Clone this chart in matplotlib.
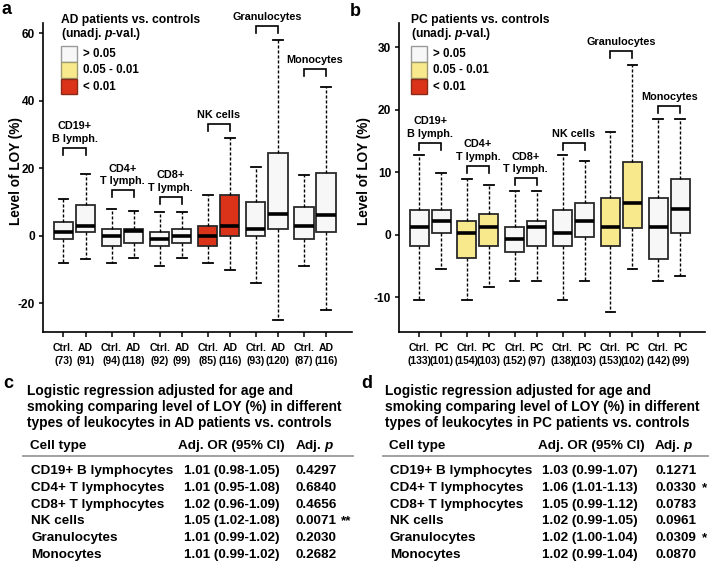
import matplotlib
matplotlib.use("Agg")
import matplotlib.pyplot as plt
from matplotlib.patches import Rectangle
from matplotlib.lines import Line2D

plt.rcParams['font.family'] = ['Liberation Sans', 'DejaVu Sans']
plt.rcParams['font.weight'] = 'bold'
plt.rcParams['axes.unicode_minus'] = False
plt.rcParams['mathtext.fontset'] = 'custom'
plt.rcParams['mathtext.it'] = 'Liberation Sans:italic:bold'
plt.rcParams['mathtext.rm'] = 'Liberation Sans:bold'
plt.rcParams['mathtext.bf'] = 'Liberation Sans:bold'

# ---------------- data ----------------
cell_groups = ["CD19+\nB lymph.", "CD4+\nT lymph.", "CD8+\nT lymph.", "NK cells", "Granulocytes", "Monocytes"]

# Panel a: AD patients vs controls (box order: Ctrl, AD per cell type)
a_ticklabels = ["Ctrl.\n(73)", "AD\n(91)", "Ctrl.\n(94)", "AD\n(118)", "Ctrl.\n(92)", "AD\n(99)",
                "Ctrl.\n(85)", "AD\n(116)", "Ctrl.\n(93)", "AD\n(120)", "Ctrl.\n(87)", "AD\n(116)"]
a_whislo = [-8, -7, -8, -6.6, -9, -6.6, -8, -10, -14, -25, -9, -22]
a_q1     = [-1, 1, -3, -2, -3, -2, -3, 0, 0, 2, -1, 1]
a_med    = [1, 3, 0, 1.5, -1, 0, 0, 3, 2, 6.5, 3, 6]
a_q3     = [4, 9, 2, 2, 1, 2, 3, 12, 10, 24.5, 8.5, 18.5]
a_whishi = [11, 18.4, 8, 7.2, 7, 7, 12, 29, 20.4, 58, 18, 44]
a_group_p = [">0.05", ">0.05", ">0.05", "<0.01", ">0.05", ">0.05"]
a_bracket = [26, 13.5, 11.5, 33, 62, 49.4]

# Panel b: PC patients vs controls
b_ticklabels = ["Ctrl.\n(133)", "PC\n(101)", "Ctrl.\n(154)", "PC\n(103)", "Ctrl.\n(152)", "PC\n(97)",
                "Ctrl.\n(138)", "PC\n(103)", "Ctrl.\n(153)", "PC\n(102)", "Ctrl.\n(142)", "PC\n(99)"]
b_whislo = [-10.5, -5.5, -10.5, -8.4, -7.5, -7.5, -10.5, -7.5, -12.4, -5.5, -7.5, -6.6]
b_q1     = [-1.8, 0.2, -3.7, -1.8, -2.8, -1.8, -1.8, -0.4, -1.8, 1.1, -3.9, 0.2]
b_med    = [1.2, 2.2, 0.3, 1.2, -0.75, 1.2, 0.27, 2.2, 1.2, 5.1, 1.2, 4.1]
b_q3     = [4, 4, 2.2, 3.3, 1.2, 2.2, 4, 5.1, 5.9, 11.7, 5.9, 8.9]
b_whishi = [12.7, 9.9, 8.9, 8, 7, 7, 12.7, 11.8, 16.5, 27.2, 18.6, 18.6]
b_group_p = [">0.05", "0.05-0.01", ">0.05", ">0.05", "0.05-0.01", ">0.05"]
b_bracket = [14.7, 11, 9, 14.7, 29.4, 20.6]

legend_cats = [">0.05", "0.05-0.01", "<0.01"]
legend_texts = ["> 0.05", "0.05 - 0.01", "< 0.01"]

# Tables
tab_celltypes = ["CD19+ B lymphocytes", "CD4+ T lymphocytes", "CD8+ T lymphocytes",
                 "NK cells", "Granulocytes", "Monocytes"]
c_or = ["1.01 (0.98-1.05)", "1.01 (0.95-1.08)", "1.02 (0.96-1.09)",
        "1.05 (1.02-1.08)", "1.01 (0.99-1.02)", "1.01 (0.99-1.02)"]
c_p = ["0.4297", "0.6840", "0.4656", "0.0071", "0.2030", "0.2682"]
c_star = ["", "", "", "**", "", ""]
d_or = ["1.03 (0.99-1.07)", "1.06 (1.01-1.13)", "1.05 (0.99-1.12)",
        "1.02 (0.99-1.05)", "1.02 (1.00-1.04)", "1.02 (0.99-1.04)"]
d_p = ["0.1271", "0.0330", "0.0783", "0.0961", "0.0309", "0.0870"]
d_star = ["", "*", "", "", "*", ""]

c_title = ["Logistic regression adjusted for age and",
           "smoking comparing level of LOY (%) in different",
           "types of leukocytes in AD patients vs. controls"]
d_title = ["Logistic regression adjusted for age and",
           "smoking comparing level of LOY (%) in different",
           "types of leukocytes in PC patients vs. controls"]

# ---------------- style ----------------
colors = {">0.05": "#f7f7f7", "0.05-0.01": "#f8ea8c", "<0.01": "#db3319"}
edge_leg = {">0.05": "#9a9a9a", "0.05-0.01": "#a09a70", "<0.01": "#8a2a18"}

W, H = 709, 565
fig = plt.figure(figsize=(7.09, 5.65), dpi=100)

def fx(x):
    return x / W

def fy(y):
    return 1 - y / H


def draw_panel(rect, ticklabels, whislo, q1, med, q3, whishi, group_p, brackets,
               ylim, yticks, xlim, leg, ylab_x, legend_title, legend_x, text_x):
    ax = fig.add_axes(rect)
    stats = []
    positions = []
    facec = []
    for i in range(len(med)):
        stats.append(dict(med=med[i], q1=q1[i], q3=q3[i], whislo=whislo[i],
                          whishi=whishi[i], fliers=[]))
        g = i // 2
        positions.append(g + (-0.23 if i % 2 == 0 else 0.23))
        facec.append(colors[group_p[g]])
    bp = ax.bxp(stats, positions=positions, widths=0.4, capwidths=0.2,
                patch_artist=True, showfliers=False,
                boxprops=dict(edgecolor="#2a2a2a", linewidth=1.3),
                medianprops=dict(color="black", linewidth=2.6, solid_capstyle="butt"),
                whiskerprops=dict(color="black", linewidth=1.0, linestyle=(0, (2.2, 1.4))),
                capprops=dict(color="black", linewidth=1.3))
    for patch, fc in zip(bp["boxes"], facec):
        patch.set_facecolor(fc)
    ax.set_xlim(*xlim)
    ax.set_ylim(*ylim)
    ax.set_yticks(yticks)
    ax.set_xticks(positions)
    ax.set_xticklabels(ticklabels, fontsize=7.5, fontweight="bold", linespacing=1.45)
    ax.tick_params(axis="x", length=3.8, width=1.1, pad=4)
    ax.tick_params(axis="y", length=2.6, width=1.1, pad=3, labelsize=8.6)
    for s in ("top", "right"):
        ax.spines[s].set_visible(False)
    for s in ("left", "bottom"):
        ax.spines[s].set_linewidth(1.2)
    ax.set_ylabel("Level of LOY (%)", fontsize=9.8, fontweight="bold")
    ax.yaxis.set_label_coords(ylab_x, 0.52)
    # brackets and labels
    for g, (name, yb) in enumerate(zip(cell_groups, brackets)):
        x1, x2 = g - 0.23, g + 0.23
        ax.plot([x1, x1, x2, x2], [yb - leg, yb, yb, yb - leg], color="black",
                lw=1.2, solid_joinstyle="miter")
        ax.annotate(name, xy=(g, yb), xytext=(0, 3), textcoords="offset points",
                    ha="center", va="bottom", fontsize=7.8, fontweight="bold",
                    linespacing=1.3)
    # legend
    fig.text(fx(legend_x), fy(20), legend_title[0], fontsize=8.7, fontweight="bold",
             ha="left", va="center")
    fig.text(fx(legend_x), fy(33.5), legend_title[1], fontsize=8.7, fontweight="bold",
             ha="left", va="center")
    for k, (cat, txt) in enumerate(zip(legend_cats, legend_texts)):
        top = 46 + k * 16.3
        fig.add_artist(Rectangle((fx(legend_x), fy(top + 15.5)), 16 / W, 15.5 / H,
                                 transform=fig.transFigure, facecolor=colors[cat],
                                 edgecolor=edge_leg[cat], linewidth=1.0))
        fig.text(fx(text_x), fy(top + 8), txt, fontsize=8.3, fontweight="bold",
                 ha="left", va="center")
    return ax

ax_a = draw_panel([fx(43), fy(332), (352 - 43) / W, (332 - 23) / H], a_ticklabels,
                  a_whislo, a_q1, a_med, a_q3, a_whishi, a_group_p, a_bracket,
                  (-28.5, 63), [-20, 0, 20, 40, 60], (-0.655, 5.77), 2.0, -0.066,
                  ["AD patients vs. controls", "(unadj. $p$-val.)"], 61, 83)
ax_b = draw_panel([fx(399), fy(332), (705 - 399) / W, (332 - 23) / H], b_ticklabels,
                  b_whislo, b_q1, b_med, b_q3, b_whishi, b_group_p, b_bracket,
                  (-15.6, 33.9), [-10, 0, 10, 20, 30], (-0.65, 5.75), 1.07, -0.092,
                  ["PC patients vs. controls", "(unadj. $p$-val.)"], 411, 433)

# panel letters
for letter, x, y in [("a", 1, 10), ("b", 350, 12), ("c", 3, 384), ("d", 361, 384)]:
    fig.text(fx(x), fy(y), letter, fontsize=13, fontweight="bold", ha="left", va="center")


def draw_table(title, x_title, x_head, x_or_h, x_p_h, line_x, x_lab, x_or, x_p, x_star,
               ors, ps, stars):
    fs = 9.7
    for k, line in enumerate(title):
        fig.text(fx(x_title), fy(391 + 16 * k), line, fontsize=9.9, fontweight="bold",
                 ha="left", va="center")
    fig.text(fx(x_head), fy(446), "Cell type", fontsize=fs, fontweight="bold",
             ha="left", va="center")
    fig.text(fx(x_or_h), fy(446), "Adj. OR (95% CI)", fontsize=fs, fontweight="bold",
             ha="left", va="center")
    fig.text(fx(x_p_h), fy(446), "Adj. $p$", fontsize=fs, fontweight="bold",
             ha="left", va="center")
    fig.add_artist(Line2D([fx(line_x[0]), fx(line_x[1])], [fy(456), fy(456)],
                          transform=fig.transFigure, color="#9a9a9a", lw=1.3))
    for r in range(len(tab_celltypes)):
        yy = 471 + 16.8 * r
        fig.text(fx(x_lab), fy(yy), tab_celltypes[r], fontsize=fs, fontweight="bold",
                 ha="left", va="center")
        fig.text(fx(x_or), fy(yy), ors[r], fontsize=fs, fontweight="bold",
                 ha="left", va="center")
        fig.text(fx(x_p), fy(yy), ps[r], fontsize=fs, fontweight="bold",
                 ha="left", va="center")
        if stars[r]:
            fig.text(fx(x_star), fy(yy), stars[r], fontsize=fs, fontweight="bold",
                     ha="left", va="center")

draw_table(c_title, 27, 30, 178, 295, (23, 353), 31, 184, 296, 341, c_or, c_p, c_star)
draw_table(d_title, 385, 389, 538, 654, (383, 708), 390, 542, 655, 702, d_or, d_p, d_star)

fig.savefig("out.png", dpi=100)
